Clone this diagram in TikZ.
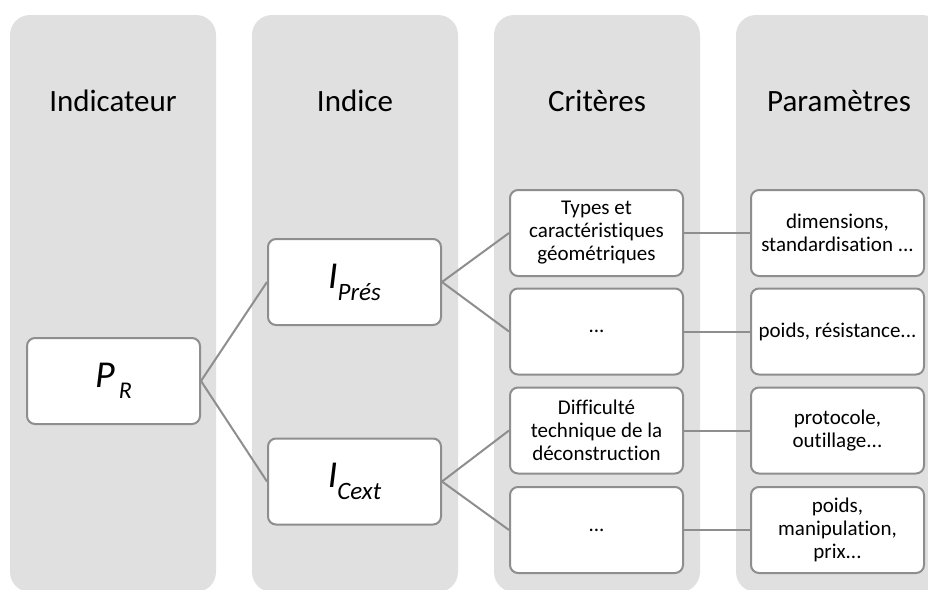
\documentclass[tikz,border=0pt]{standalone}
\usepackage{fontspec}
\setmainfont{Carlito}[Ligatures=NoCommon]
\usetikzlibrary{positioning}
\definecolor{cpanel}{HTML}{E0E0E0}
\definecolor{cline}{HTML}{8E8E8E}
\tikzset{
  every picture/.style={line width=2pt},
  panel/.style={fill=cpanel, rounded corners=20pt},
  head/.style={font=\fontsize{31}{37}\selectfont, anchor=base},
  card/.style={draw=cline, fill=white, rounded corners=8pt, align=center, minimum width=173pt, minimum height=86pt, inner sep=0pt, font=\fontsize{21}{23}\selectfont},
  bigcard/.style={card, font=\fontsize{38}{44}\selectfont\itshape},
  link/.style={draw=cline, line width=2pt},
}

\begin{document}
\begin{tikzpicture}[x=1pt, y=-1pt, node distance=13pt and 66pt]
  \useasboundingbox (0,0) rectangle (928,589);
  % columns
  \foreach \i/\t in {0/Indicateur, 1/Indice, 2/Critères, 3/Paramètres} {
    \fill[panel] (10+242*\i,15) rectangle (216+242*\i,592);
    \node[head] (h\i) at (113+242*\i,111) {\t};
  }
  % indicator and indices
  \node[bigcard] (pr) at (113.5,381) {P\hspace{4pt}\raisebox{-11pt}{\fontsize{24}{28}\selectfont R}};
  \node[bigcard] (ipres) at (354.5,282) {I\raisebox{-12pt}{\fontsize{25}{29}\selectfont Prés}};
  \node[bigcard] (icext) at (354.5,481.5) {I\raisebox{-12pt}{\fontsize{25}{29}\selectfont Cext}};
  % criteria
  \node[card] (c1) at (596.5,233) {Types et\\caractéristiques\\géométriques};
  \node[card] (c2) at (596.5,331.5) {...};
  \node[card] (c3) at (596.5,430.5) {Difficulté\\technique de la\\déconstruction};
  \node[card] (c4) at (596.5,530) {...};
  % parameters
  \node[card, right=of c1] (p1) {dimensions,\\standardisation ...};
  \node[card, right=of c2] (p2) {poids, résistance...};
  \node[card, right=of c3] (p3) {protocole,\\outillage...};
  \node[card, right=of c4] (p4) {poids,\\manipulation,\\prix...};
  % links
  \draw[link] (pr.east) -- (ipres.west);
  \draw[link] (pr.east) -- (icext.west);
  \draw[link] (ipres.east) -- (c1.west);
  \draw[link] (ipres.east) -- (c2.west);
  \draw[link] (icext.east) -- (c3.west);
  \draw[link] (icext.east) -- (c4.west);
  \foreach \k in {1,...,4}
    \draw[link] (c\k) -- (p\k);
\end{tikzpicture}
\end{document}
